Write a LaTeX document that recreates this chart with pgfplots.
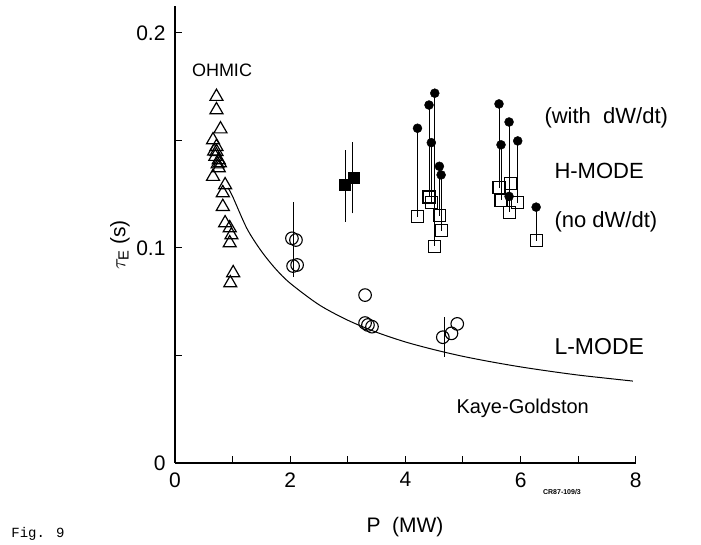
\documentclass[border=0pt]{standalone}
\usepackage{fontspec}
\setmainfont{Liberation Sans}
\newfontfamily\monofont{Liberation Mono}
\usepackage{pgfplots}
\pgfplotsset{compat=1.18}
\begin{document}
\begin{tikzpicture}
\path[use as bounding box] (-175pt,-82pt) rectangle (526pt,463pt);
\begin{axis}[
  at={(0pt,0pt)}, anchor=south west,
  scale only axis, width=460.8pt, height=457pt,
  xmin=0, xmax=8, ymin=0, ymax=0.21256,
  axis lines=left,
  axis line style={line width=1.4pt, -},
  xtick={0,2,4,6,8}, xticklabels={0,2,4,6,8}, minor xtick={1,3,5,7},
  ytick={0,0.1,0.2}, yticklabels={0,0.1,0.2}, minor ytick={0.05,0.15},
  tick align=inside, major tick length=7pt, minor tick length=7pt,
  tick style={line width=1pt, black},
  /pgf/number format/assume math mode=true,
  ticklabel style={font=\fontsize{21}{24}\selectfont},
  yticklabel style={xshift=-6pt},
  xticklabel style={yshift=-6pt},
  clip=false,
]
% Kaye-Goldston curve
\addplot[black, line width=1pt, smooth] coordinates {
(0.92,0.128)(1.0,0.124)(1.25,0.109)(1.5,0.0985)(1.75,0.0902)(2.0,0.0836)
(2.5,0.0736)(3.0,0.0664)(3.5,0.0608)(4.0,0.0563)(4.5,0.0527)(5.0,0.0496)
(5.5,0.0470)(6.0,0.0447)(6.5,0.0427)(7.0,0.0409)(7.5,0.0394)(7.95,0.0381)};
% error bars / connecting lines
\addplot[black, line width=0.8pt, unbounded coords=jump] coordinates {
(2.05,0.0865)(2.05,0.1214)(2.05,nan)
(4.67,0.0494)(4.67,0.068)(4.67,nan)
(2.964,0.1122)(2.964,0.1456)(2.964,nan)
(3.085,0.1161)(3.085,0.1494)(3.085,nan)
(4.21,0.1557)(4.21,0.1146)(4.21,nan)
(4.41,0.1665)(4.41,0.1237)(4.41,nan)
(4.51,0.172)(4.51,0.1009)(4.51,nan)
(4.45,0.149)(4.45,0.121)(4.45,nan)
(4.59,0.138)(4.59,0.115)(4.59,nan)
(4.62,0.134)(4.62,0.108)(4.62,nan)
(5.625,0.167)(5.625,0.128)(5.625,nan)
(5.66,0.148)(5.66,0.1223)(5.66,nan)
(5.80,0.1586)(5.80,0.1167)(5.80,nan)
(5.95,0.1498)(5.95,0.121)(5.95,nan)
(6.27,0.119)(6.27,0.1033)};
% OHMIC triangles
\addplot[black, only marks, mark=triangle, mark size=7.5pt, mark options={line width=1.2pt, fill=none}] coordinates {
(0.72,0.1704)(0.72,0.1642)(0.79,0.1553)(0.66,0.1502)(0.72,0.1471)(0.72,0.1448)
(0.76,0.1409)(0.76,0.1372)(0.66,0.1332)(0.87,0.1293)(0.83,0.1256)(0.83,0.1192)
(0.87,0.1116)(0.95,0.1093)(0.98,0.106)(0.95,0.1023)(1.01,0.0884)(0.96,0.0837)
(0.70,0.1425)(0.78,0.1395)(0.74,0.139)(0.68,0.145)};
% L-mode circles
\addplot[black, only marks, mark=o, mark size=6.3pt, mark options={line width=1.1pt}] coordinates {
(2.03,0.1045)(2.10,0.1037)(2.05,0.0916)(2.12,0.0921)(3.30,0.0781)(3.30,0.0651)
(3.35,0.0642)(3.42,0.0634)(4.65,0.0585)(4.80,0.0603)(4.90,0.0647)};
% filled squares
\addplot[black, only marks, mark=square*, mark size=5.5pt] coordinates {
(2.95,0.1293)(3.095,0.1329)};
% H-mode, no dW/dt (open squares)
\addplot[black, only marks, mark=square, mark size=6pt, mark options={line width=1.1pt, fill=white}] coordinates {
(4.21,0.1146)(4.41,0.1237)(4.51,0.1009)(4.45,0.121)(4.59,0.115)(4.62,0.108)
(5.625,0.128)(5.66,0.1223)(5.80,0.1167)(5.95,0.121)(5.82,0.130)(6.27,0.1033)};
% H-mode, with dW/dt (filled circles)
\addplot[black, only marks, mark=*, mark size=4.5pt] coordinates {
(4.21,0.1557)(4.41,0.1665)(4.51,0.172)(4.45,0.149)(4.59,0.138)(4.62,0.134)
(5.625,0.167)(5.66,0.148)(5.80,0.1586)(5.95,0.1498)(5.80,0.124)(6.27,0.119)};
\end{axis}
\begin{scope}[x=1pt,y=1pt,shift={(-175pt,-82pt)}]
\node[font=\fontsize{18}{20}\selectfont] at (222,475) {OHMIC};
\node[anchor=west, font=\fontsize{22}{24}\selectfont] at (541,427) {(with\ \ dW/dt)};
\node[anchor=west, font=\fontsize{22}{24}\selectfont] at (551,374) {H-MODE};
\node[anchor=west, font=\fontsize{22}{24}\selectfont] at (551,323) {(no dW/dt)};
\node[anchor=west, font=\fontsize{23}{25}\selectfont] at (551,198) {L-MODE};
\node[anchor=west, font=\fontsize{20}{22}\selectfont] at (453,137) {Kaye-Goldston};
\node[font=\fontsize{7}{8}\selectfont\bfseries] at (562,53) {CR87-109/3};
\node[font=\fontsize{21}{24}\selectfont] at (405,18) {P\ \ (MW)};
\node[rotate=90, font=\fontsize{21}{24}\selectfont] at (120,300) {$\tau_{\mathrm{E}}$ (s)};
\node[font=\monofont\fontsize{14}{16}\selectfont] at (38,11) {Fig. 9};
\end{scope}
\end{tikzpicture}
\end{document}
